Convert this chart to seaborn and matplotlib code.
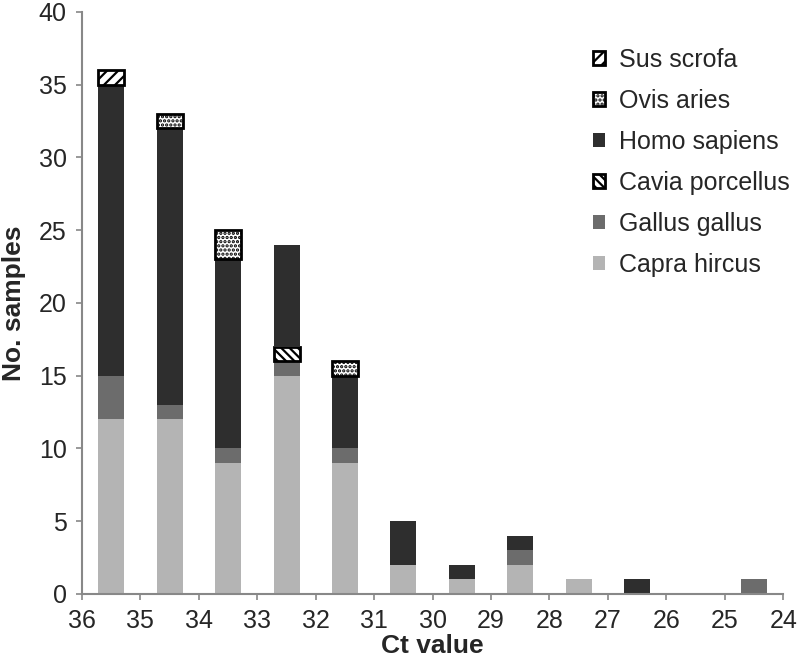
import numpy as np
import pandas as pd
import matplotlib
matplotlib.use('Agg')
import matplotlib.pyplot as plt
import seaborn as sns

# Ct bins (bar between two ticks), from high Ct to low Ct
bins = ['35.5', '34.5', '33.5', '32.5', '31.5', '30.5', '29.5', '28.5', '27.5', '26.5', '25.5', '24.5']
tick_labels = ['36', '35', '34', '33', '32', '31', '30', '29', '28', '27', '26', '25', '24']

capra = [12, 12, 9, 15, 9, 2, 1, 2, 1, 0, 0, 0]
gallus = [3, 1, 1, 1, 1, 0, 0, 1, 0, 0, 0, 1]
cavia = [0, 0, 0, 1, 0, 0, 0, 0, 0, 0, 0, 0]
homo = [20, 19, 13, 7, 5, 3, 1, 1, 0, 1, 0, 0]
ovis = [0, 1, 2, 0, 1, 0, 0, 0, 0, 0, 0, 0]
sus = [1, 0, 0, 0, 0, 0, 0, 0, 0, 0, 0, 0]

layers = [
    ('Capra hircus', capra, dict(color='#b4b4b4', edgecolor='#b4b4b4', linewidth=0)),
    ('Gallus gallus', gallus, dict(color='#6c6c6c', edgecolor='#6c6c6c', linewidth=0)),
    ('Cavia porcellus', cavia, dict(color='white', edgecolor='black', hatch='\\\\\\\\', linewidth=2)),
    ('Homo sapiens', homo, dict(color='#2e2e2e', edgecolor='#2e2e2e', linewidth=0)),
    ('Ovis aries', ovis, dict(color='white', edgecolor='black', hatch='....', linewidth=2)),
    ('Sus scrofa', sus, dict(color='white', edgecolor='black', hatch='///', linewidth=2)),
]

sns.set_style('white')
plt.rcParams['font.family'] = ['Liberation Sans', 'DejaVu Sans']
plt.rcParams['hatch.linewidth'] = 1.6

fig, ax = plt.subplots(figsize=(8, 6.62), dpi=100)
fig.subplots_adjust(left=0.1025, right=0.979, bottom=0.103, top=0.982)

base = np.zeros(len(bins))
for name, vals, style in layers:
    vals = np.array(vals, dtype=float)
    df = pd.DataFrame({'ct': bins, 'n': vals, 'bottom': base})
    df = df[df['n'] > 0]
    sns.barplot(data=df, x='ct', y='n', order=bins, bottom=df['bottom'].values,
                width=0.445, errorbar=None, saturation=1, label=name, ax=ax, **style)
    base = base + vals

ax.set_xlim(-0.5, len(bins) - 0.5)
ax.set_xticks(np.arange(len(tick_labels)) - 0.5)
ax.set_xticklabels(tick_labels)
ax.set_ylim(0, 40)
ax.set_yticks(range(0, 41, 5))
ax.tick_params(axis='both', labelsize=18, direction='out', length=4, width=1.2,
               color='#888888', bottom=True, left=True, pad=7)
ax.set_xlabel('Ct value', fontsize=19, fontweight='bold', labelpad=1)
ax.set_ylabel('No. samples', fontsize=19, fontweight='bold', labelpad=9)
for s in ['top', 'right']:
    ax.spines[s].set_visible(False)
for s in ['left', 'bottom']:
    ax.spines[s].set_color('#888888')
    ax.spines[s].set_linewidth(1.5)

handles, labels = ax.get_legend_handles_labels()
ax.legend(handles[::-1], labels[::-1], loc='upper left', bbox_to_anchor=(0.741, 0.928),
          bbox_transform=fig.transFigure, borderaxespad=0, borderpad=0,
          frameon=False, fontsize=18, handlelength=0.5, handleheight=0.5,
          labelspacing=0.68, handletextpad=0.55)

fig.savefig('out.png', dpi=100)
